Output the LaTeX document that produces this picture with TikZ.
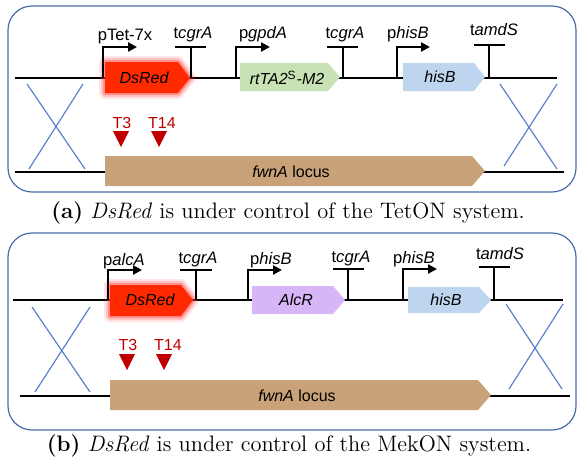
\documentclass[tikz,border=0pt]{standalone}
\usepackage{fontspec}
\newfontfamily\arialfont{Liberation Sans}
\usetikzlibrary{arrows.meta}

\definecolor{framecol}{HTML}{4A6BA8}
\definecolor{crosscol}{HTML}{5B82C8}
\definecolor{dsredcol}{HTML}{FF2A00}
\definecolor{rttacol}{HTML}{C8E2B6}
\definecolor{alcrcol}{HTML}{D7B5F7}
\definecolor{hisbcol}{HTML}{BDD5EE}
\definecolor{locuscol}{HTML}{C9A279}
\definecolor{sitecol}{HTML}{C00000}

\tikzset{
    dna/.style={line width=1.4pt},
    prom/.style={line width=1.1pt, -{Triangle[length=4.5pt,width=4.5pt]}},
    term/.style={line width=1.1pt},
    cross/.style={draw=crosscol, line width=0.6pt},
    panel/.style={draw=framecol, line width=0.6pt, rounded corners=12pt},
    glow/.style={preaction={draw=red!80, line width=6pt, opacity=0.12, line join=round},
                 preaction={draw=red!80, line width=4pt, opacity=0.2, line join=round},
                 preaction={draw=red!80, line width=2pt, opacity=0.35, line join=round}},
    lbl/.style={font=\arialfont\fontsize{8.3}{9}\selectfont, inner sep=0pt, anchor=base},
    genetext/.style={font=\arialfont\fontsize{8}{9}\selectfont\itshape, inner sep=0pt},
    sitetext/.style={font=\arialfont\fontsize{8}{9}\selectfont, text=sitecol, inner sep=0pt},
    captext/.style={font=\fontsize{11.2}{13}\selectfont, inner sep=0pt},
}

\begin{document}
\begin{tikzpicture}[x=0.5pt, y=-0.5pt]
    \useasboundingbox (0,0) rectangle (577,461);

    % (a) TetON
    \draw[panel] (8,6) rectangle (576,192);
    \draw[dna] (15,78) -- (557,78);
    \draw[dna] (15,172) -- (564,172);
    \draw[cross] (27,84) -- (85,169) (83,84) -- (29,169);
    \draw[cross] (500,84) -- (557,169) (557,84) -- (504,166);

    \fill[dsredcol, glow] (105,62) -- (178,62) -- (190,78) -- (178,93) -- (105,93) -- cycle;
    \fill[rttacol] (240,63) -- (328,63) -- (340,77) -- (328,91) -- (240,91) -- cycle;
    \fill[hisbcol] (403,63) -- (474,63) -- (485,77) -- (474,91) -- (403,91) -- cycle;
    \fill[locuscol] (105,156) -- (472,156) -- (485,171) -- (472,186) -- (105,186) -- cycle;

    \node[genetext] (dsredA) at (144,78) {DsRed};
    \node[genetext] (rttaA) at (287,78) {rtTA2\textsuperscript{\upshape S}-M2};
    \node[genetext] (hisbA) at (440,77) {hisB};
    \node[genetext] (locusA) at (291,172) {fwnA\upshape{} locus};

    \draw[prom] (103,78) -- (103,47) -- (137,47);
    \draw[term] (191,78) -- (191,47) (175,47) -- (206,47);
    \draw[prom] (236,78) -- (236,47) -- (270,47);
    \draw[term] (343,78) -- (343,47) (327,47) -- (358,47);
    \draw[prom] (397,78) -- (397,47) -- (430,47);
    \draw[term] (489,78) -- (489,45) (474,45) -- (505,45);

    \node[lbl] (pTetA) at (125,40) {pTet-7x};
    \node[lbl] (tcgrA1) at (193,38) {t\textit{cgrA}};
    \node[lbl] (pgpdA) at (263,38) {p\textit{gpdA}};
    \node[lbl] (tcgrA2) at (345,38) {t\textit{cgrA}};
    \node[lbl] (phisBA) at (408,38) {p\textit{hisB}};
    \node[lbl] (tamdSA) at (494,35) {t\textit{amdS}};

    \fill[sitecol] (113,131) -- (129,131) -- (121,147) -- cycle;
    \fill[sitecol] (151,131) -- (167,131) -- (159,147) -- cycle;
    \node[sitetext] (t3A) at (122,123) {T3};
    \node[sitetext] (t14A) at (162,123) {T14};

    \node[captext] (capA) at (288,213) {\textbf{(a)} \textit{DsRed} is under control of the TetON system.};

    % (b) MekON
    \draw[panel] (8,233) rectangle (576,430);
    \draw[dna] (13,300) -- (563,300);
    \draw[dna] (20,396) -- (570,396);
    \draw[cross] (32,307) -- (90,392) (90,307) -- (35,392);
    \draw[cross] (506,304) -- (562,389) (563,304) -- (509,389);

    \fill[dsredcol, glow] (110,285) -- (181,285) -- (193,300) -- (181,316) -- (110,316) -- cycle;
    \fill[alcrcol] (252,286) -- (333,286) -- (345,300) -- (333,314) -- (252,314) -- cycle;
    \fill[hisbcol] (408,287) -- (479,287) -- (491,300) -- (479,313) -- (408,313) -- cycle;
    \fill[locuscol] (110,380) -- (478,380) -- (491,395) -- (478,410) -- (110,410) -- cycle;

    \node[genetext] (dsredB) at (150,300) {DsRed};
    \node[genetext] (alcrB) at (296,300) {AlcR};
    \node[genetext] (hisbB) at (446,300) {hisB};
    \node[genetext] (locusB) at (297,396) {fwnA\upshape{} locus};

    \draw[prom] (108,300) -- (108,270) -- (142,270);
    \draw[term] (196,300) -- (196,270) (180,270) -- (212,270);
    \draw[prom] (248,300) -- (248,270) -- (282,270);
    \draw[term] (348,300) -- (348,269) (333,269) -- (364,269);
    \draw[prom] (403,300) -- (403,269) -- (437,269);
    \draw[term] (494,300) -- (494,267) (479,267) -- (510,267);

    \node[lbl] (palcA) at (124,265) {p\textit{alcA}};
    \node[lbl] (tcgrB1) at (198,263) {t\textit{cgrA}};
    \node[lbl] (phisB1) at (271,264) {p\textit{hisB}};
    \node[lbl] (tcgrB2) at (351,262) {t\textit{cgrA}};
    \node[lbl] (phisB2) at (414,263) {p\textit{hisB}};
    \node[lbl] (tamdSB) at (500,259) {t\textit{amdS}};

    \fill[sitecol] (119,354) -- (135,354) -- (127,370) -- cycle;
    \fill[sitecol] (156,354) -- (172,354) -- (164,370) -- cycle;
    \node[sitetext] (t3B) at (128,345) {T3};
    \node[sitetext] (t14B) at (168,345) {T14};

    \node[captext] (capB) at (289,446) {\textbf{(b)} \textit{DsRed} is under control of the MekON system.};
\end{tikzpicture}
\end{document}
